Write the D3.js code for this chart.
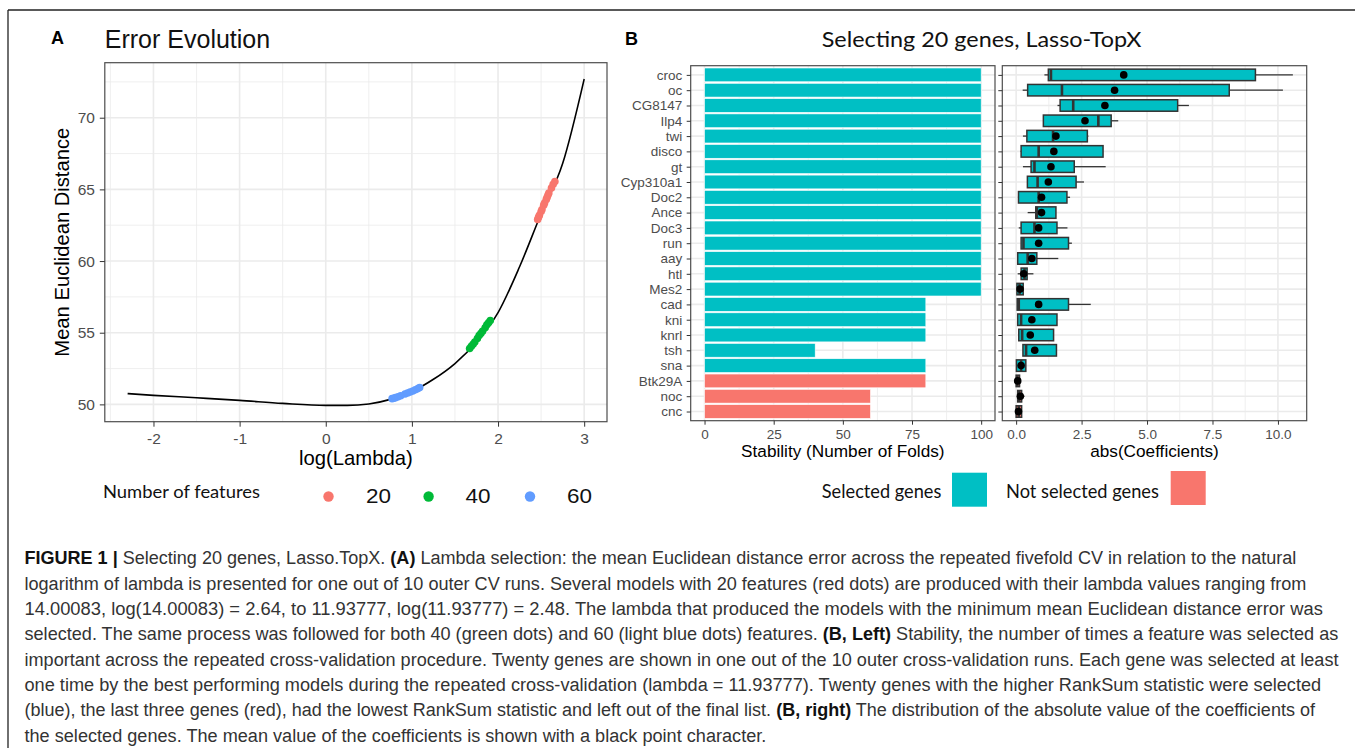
<!DOCTYPE html>
<html><head><meta charset="utf-8">
<script src="https://cdn.jsdelivr.net/npm/d3@7"></script>
<style>body{margin:0;background:#fff} svg{display:block} text{white-space:pre}</style>
</head><body>
<svg id="fig" width="1355" height="748"></svg>
<script>
// ---------------- DATA ----------------
// Panel A: error curve
const lambdaLog = [-2.3,-2.0,-1.5,-1.0,-0.5,0.0,0.25,0.5,0.75,1.0,1.25,1.5,1.75,2.0,2.25,2.5,2.75,3.0];
const meanError = [50.75,50.63,50.46,50.28,50.07,49.93,49.93,50.03,50.35,50.9,51.75,52.85,54.35,56.4,59.6,63.3,66.8,72.7];
// Panel A: models per number of features
const feat20Lambda = [2.46,2.47,2.48,2.50,2.51,2.53,2.54,2.56,2.57,2.58,2.59,2.62,2.64,2.66];
const feat20Error  = [62.9,63.05,63.2,63.45,63.6,63.9,64.05,64.3,64.45,64.6,64.75,65.1,65.35,65.55];
const feat40Lambda = [1.67,1.69,1.71,1.73,1.76,1.78,1.80,1.82,1.85,1.87,1.89,1.91];
const feat40Error  = [53.9,54.05,54.2,54.35,54.6,54.8,54.95,55.1,55.35,55.55,55.7,55.85];
const feat60Lambda = [0.77,0.79,0.81,0.84,0.87,0.92,0.95,0.98,1.01,1.04,1.07,1.09];
const feat60Error  = [50.4,50.43,50.47,50.53,50.6,50.72,50.79,50.86,50.93,51.02,51.1,51.18];
const featureGroups = ["20","40","60"];
const featureColors = ["#F8766D","#00BA38","#619CFF"];
const xTicksA = [-2,-1,0,1,2,3];
const yTicksA = [50,55,60,65,70];

// Panel B
const genes = ["croc","oc","CG8147","Ilp4","twi","disco","gt","Cyp310a1","Doc2","Ance","Doc3","run","aay","htl","Mes2","cad","kni","knrl","tsh","sna","Btk29A","noc","cnc"];
const stability = [100,100,100,100,100,100,100,100,100,100,100,100,100,100,100,80,80,80,40,80,80,60,60];
const geneStatus = ["S","S","S","S","S","S","S","S","S","S","S","S","S","S","S","S","S","S","S","S","N","N","N"];
const statusLabels = ["Selected genes","Not selected genes"];
const statusColors = ["#00BFC4","#F8766D"];
const coefMin    = [1.08,0.25,1.58,1.04,0.26,0.17,0.26,0.43,0.09,0.44,0.10,0.19,0.06,0.06,0.03,0.04,0.06,0.10,0.26,0.01,0.00,0.06,0.00];
const coefQ1     = [1.23,0.44,1.68,1.04,0.41,0.19,0.57,0.43,0.09,0.75,0.19,0.19,0.06,0.19,0.03,0.04,0.06,0.10,0.26,0.01,0.00,0.06,0.00];
const coefMedian = [1.33,1.75,2.18,3.14,1.41,0.86,0.70,0.82,0.86,0.79,0.70,0.28,0.44,0.32,0.13,0.10,0.19,0.23,0.38,0.19,0.05,0.12,0.10];
const coefQ3     = [9.14,8.14,6.17,3.63,2.72,3.32,2.22,2.29,1.94,1.52,1.56,2.00,0.79,0.42,0.27,2.00,1.56,1.43,1.54,0.37,0.13,0.21,0.21];
const coefMax    = [10.57,10.19,6.60,3.90,2.76,3.32,3.42,2.59,2.06,1.52,1.96,2.13,1.61,0.66,0.27,2.85,1.56,1.43,1.54,0.37,0.13,0.32,0.21];
const coefMean   = [4.11,3.76,3.39,2.63,1.52,1.44,1.33,1.23,0.97,0.97,0.86,0.86,0.60,0.29,0.15,0.86,0.60,0.54,0.71,0.19,0.06,0.16,0.09];
const stabTicks = [0,25,50,75,100];
const coefTicks = [0,2.5,5,7.5,10];

// Caption
const captionLines = [
  [["FIGURE 1 |",1],[" Selecting 20 genes, Lasso.TopX. ",0],["(A)",1],[" Lambda selection: the mean Euclidean distance error across the repeated fivefold CV in relation to the natural",0]],
  [["logarithm of lambda is presented for one out of 10 outer CV runs. Several models with 20 features (red dots) are produced with their lambda values ranging from",0]],
  [["14.00083, log(14.00083) = 2.64, to 11.93777, log(11.93777) = 2.48. The lambda that produced the models with the minimum mean Euclidean distance error was",0]],
  [["selected. The same process was followed for both 40 (green dots) and 60 (light blue dots) features. ",0],["(B, Left)",1],[" Stability, the number of times a feature was selected as",0]],
  [["important across the repeated cross-validation procedure. Twenty genes are shown in one out of the 10 outer cross-validation runs. Each gene was selected at least",0]],
  [["one time by the best performing models during the repeated cross-validation (lambda = 11.93777). Twenty genes with the higher RankSum statistic were selected",0]],
  [["(blue), the last three genes (red), had the lowest RankSum statistic and left out of the final list. ",0],["(B, right)",1],[" The distribution of the absolute value of the coefficients of",0]],
  [["the selected genes. The mean value of the coefficients is shown with a black point character.",0]]
];
const captionWidths = [1272,1283,1298,1314,1314,1297,1291,742];

// ---------------- DRAWING ----------------
const svg = d3.select("#fig");
const FONT = "'Liberation Sans', Arial, Helvetica, sans-serif";
const HFONT = "Lato, 'Open Sans', sans-serif";
const GRID = "#ebebeb", BORDER = "#4d4d4d", TICKTXT = "#4d4d4d";

function expand(ext, f = 0.05) { const r = ext[1] - ext[0]; return [ext[0] - r * f, ext[1] + r * f]; }
function minorBreaks(ticks, domain) {
  const step = ticks[1] - ticks[0], out = [];
  for (let i = -1; i < ticks.length; i++) { const v = ticks[0] + step * (i + 0.5); if (v >= domain[0] && v <= domain[1]) out.push(v); }
  return out;
}
function fitWidth(sel, x0, y0, width, anchor) {
  const w = sel.node().getComputedTextLength();
  const k = width / w;
  sel.attr("x", 0).attr("y", 0).attr("text-anchor", anchor || "start")
     .attr("transform", `translate(${x0},${y0}) scale(${k},1)`);
}
function styleAxis(g, size) {
  g.select(".domain").remove();
  g.selectAll(".tick line").attr("stroke", "#333").attr("stroke-width", 1);
  g.selectAll(".tick text").attr("fill", TICKTXT).attr("font-size", size).attr("font-family", FONT);
}
const hyphen = d => (d < 0 ? "-" + Math.abs(d) : String(d));

// Figure frame
svg.append("line").attr("x1", 8).attr("x2", 1355).attr("y1", 10).attr("y2", 10).attr("stroke", "#222").attr("stroke-width", 1.3);
svg.append("line").attr("x1", 8).attr("x2", 8).attr("y1", 10).attr("y2", 748).attr("stroke", "#222").attr("stroke-width", 1.3);

// ===== Panel A =====
const A = { l: 104.8, r: 607, t: 62.7, b: 421.7 };
const xA = d3.scaleLinear().domain(expand(d3.extent(lambdaLog))).range([A.l, A.r]);
const yA = d3.scaleLinear().domain(expand(d3.extent(meanError))).range([A.b, A.t]);
const gA = svg.append("g");
gA.append("rect").attr("x", A.l).attr("y", A.t).attr("width", A.r - A.l).attr("height", A.b - A.t).attr("fill", "#fff");
minorBreaks(xTicksA, xA.domain()).forEach(v => gA.append("line").attr("x1", xA(v)).attr("x2", xA(v)).attr("y1", A.t).attr("y2", A.b).attr("stroke", GRID).attr("stroke-width", 0.8));
minorBreaks(yTicksA, yA.domain()).forEach(v => gA.append("line").attr("y1", yA(v)).attr("y2", yA(v)).attr("x1", A.l).attr("x2", A.r).attr("stroke", GRID).attr("stroke-width", 0.8));
xTicksA.forEach(v => gA.append("line").attr("x1", xA(v)).attr("x2", xA(v)).attr("y1", A.t).attr("y2", A.b).attr("stroke", GRID).attr("stroke-width", 1.6));
yTicksA.forEach(v => gA.append("line").attr("y1", yA(v)).attr("y2", yA(v)).attr("x1", A.l).attr("x2", A.r).attr("stroke", GRID).attr("stroke-width", 1.6));

const curve = lambdaLog.map((x, i) => [x, meanError[i]]);
gA.append("path").datum(curve)
  .attr("d", d3.line().x(d => xA(d[0])).y(d => yA(d[1])).curve(d3.curveMonotoneX))
  .attr("fill", "none").attr("stroke", "#000").attr("stroke-width", 1.6);

const featSets = [[feat20Lambda, feat20Error], [feat40Lambda, feat40Error], [feat60Lambda, feat60Error]];
featSets.forEach((s, gi) => {
  gA.selectAll(null).data(s[0].map((x, i) => [x, s[1][i]])).enter().append("circle")
    .attr("cx", d => xA(d[0])).attr("cy", d => yA(d[1])).attr("r", 3.8).attr("fill", featureColors[gi]);
});
gA.append("rect").attr("x", A.l).attr("y", A.t).attr("width", A.r - A.l).attr("height", A.b - A.t).attr("fill", "none").attr("stroke", BORDER).attr("stroke-width", 1.2);

const axAx = gA.append("g").attr("transform", `translate(0,${A.b})`)
  .call(d3.axisBottom(xA).tickValues(xTicksA).tickSize(5).tickPadding(6).tickFormat(hyphen));
styleAxis(axAx, 15.5);
const axAy = gA.append("g").attr("transform", `translate(${A.l},0)`)
  .call(d3.axisLeft(yA).tickValues(yTicksA).tickSize(5).tickPadding(4.8).tickFormat(hyphen));
styleAxis(axAy, 15.5);

svg.append("text").text("A").attr("x", 51).attr("y", 44).attr("font-family", FONT).attr("font-weight", "bold").attr("font-size", 18);
svg.append("text").text("Error Evolution").attr("x", 104.8).attr("y", 48).attr("font-family", FONT).attr("font-size", 25).attr("fill", "#111");
svg.append("text").text("log(Lambda)").attr("x", (A.l + A.r) / 2).attr("y", 465).attr("text-anchor", "middle").attr("font-family", FONT).attr("font-size", 20.3);
svg.append("text").text("Mean Euclidean Distance").attr("transform", `translate(68.5,${(A.t + A.b) / 2}) rotate(-90)`).attr("text-anchor", "middle").attr("font-family", FONT).attr("font-size", 20.2);

// Legend A
const lgA = svg.append("text").text("Number of features").attr("font-family", HFONT).attr("font-size", 17.5).attr("fill", "#111");
fitWidth(lgA, 103, 498, 157);
const legDotX = [328.5, 428.6, 530];
const legTxtX = [366, 465.6, 567];
featureGroups.forEach((g, i) => {
  svg.append("circle").attr("cx", legDotX[i]).attr("cy", 496.5).attr("r", 5.2).attr("fill", featureColors[i]);
  const t = svg.append("text").text(g).attr("font-family", FONT).attr("font-size", 21).attr("fill", "#111");
  fitWidth(t, legTxtX[i], 503, 25);
});

// ===== Panel B: bars =====
const B = { l: 690.7, r: 995, t: 65.7, b: 420.7 };
const yB = d3.scalePoint().domain(genes).range([B.t, B.b]).padding(0.6);
const stepB = yB.step();
const xB = d3.scaleLinear().domain(expand([0, d3.max(stability)])).range([B.l, B.r]);
const gB = svg.append("g");
gB.append("rect").attr("x", B.l).attr("y", B.t).attr("width", B.r - B.l).attr("height", B.b - B.t).attr("fill", "#fff");
minorBreaks(stabTicks, xB.domain()).forEach(v => gB.append("line").attr("x1", xB(v)).attr("x2", xB(v)).attr("y1", B.t).attr("y2", B.b).attr("stroke", GRID).attr("stroke-width", 0.8));
stabTicks.forEach(v => gB.append("line").attr("x1", xB(v)).attr("x2", xB(v)).attr("y1", B.t).attr("y2", B.b).attr("stroke", GRID).attr("stroke-width", 1.6));
genes.forEach(g => gB.append("line").attr("y1", yB(g)).attr("y2", yB(g)).attr("x1", B.l).attr("x2", B.r).attr("stroke", GRID).attr("stroke-width", 1.6));
gB.selectAll("rect.bar").data(genes).enter().append("rect").attr("class", "bar")
  .attr("x", xB(0)).attr("y", g => yB(g) - stepB * 0.45)
  .attr("width", (g, i) => xB(stability[i]) - xB(0)).attr("height", stepB * 0.9)
  .attr("fill", (g, i) => statusColors[geneStatus[i] === "S" ? 0 : 1])
  .attr("stroke", "#fff").attr("stroke-width", 0.6);
gB.append("rect").attr("x", B.l).attr("y", B.t).attr("width", B.r - B.l).attr("height", B.b - B.t).attr("fill", "none").attr("stroke", BORDER).attr("stroke-width", 1.2);
const axBx = gB.append("g").attr("transform", `translate(0,${B.b})`)
  .call(d3.axisBottom(xB).tickValues(stabTicks).tickSize(4).tickPadding(4.3));
styleAxis(axBx, 13.5);
const axBy = gB.append("g").attr("transform", `translate(${B.l},0)`)
  .call(d3.axisLeft(yB).tickSize(4).tickPadding(4.4));
styleAxis(axBy, 13.5);
svg.append("text").text("Stability (Number of Folds)").attr("x", (B.l + B.r) / 2).attr("y", 457).attr("text-anchor", "middle").attr("font-family", FONT).attr("font-size", 17.2);

// ===== Panel B: boxplots =====
const C = { l: 1002.3, r: 1306.7, t: 65.7, b: 420.7 };
const xC = d3.scaleLinear().domain(expand([d3.min(coefMin), d3.max(coefMax)])).range([C.l, C.r]);
const gC = svg.append("g");
gC.append("rect").attr("x", C.l).attr("y", C.t).attr("width", C.r - C.l).attr("height", C.b - C.t).attr("fill", "#fff");
minorBreaks(coefTicks, xC.domain()).forEach(v => gC.append("line").attr("x1", xC(v)).attr("x2", xC(v)).attr("y1", C.t).attr("y2", C.b).attr("stroke", GRID).attr("stroke-width", 0.8));
coefTicks.forEach(v => gC.append("line").attr("x1", xC(v)).attr("x2", xC(v)).attr("y1", C.t).attr("y2", C.b).attr("stroke", GRID).attr("stroke-width", 1.6));
genes.forEach(g => gC.append("line").attr("y1", yB(g)).attr("y2", yB(g)).attr("x1", C.l).attr("x2", C.r).attr("stroke", GRID).attr("stroke-width", 1.6));
const boxH = stepB * 0.75;
genes.forEach((g, i) => {
  const y = yB(g);
  gC.append("line").attr("x1", xC(coefMin[i])).attr("x2", xC(coefQ1[i])).attr("y1", y).attr("y2", y).attr("stroke", "#333").attr("stroke-width", 1.3);
  gC.append("line").attr("x1", xC(coefQ3[i])).attr("x2", xC(coefMax[i])).attr("y1", y).attr("y2", y).attr("stroke", "#333").attr("stroke-width", 1.3);
  gC.append("rect").attr("x", xC(coefQ1[i])).attr("y", y - boxH / 2).attr("width", Math.max(0.5, xC(coefQ3[i]) - xC(coefQ1[i]))).attr("height", boxH)
    .attr("fill", statusColors[geneStatus[i] === "S" ? 0 : 1]).attr("stroke", "#333").attr("stroke-width", 1.5);
  gC.append("line").attr("x1", xC(coefMedian[i])).attr("x2", xC(coefMedian[i])).attr("y1", y - boxH / 2).attr("y2", y + boxH / 2).attr("stroke", "#333").attr("stroke-width", 2.6);
  gC.append("circle").attr("cx", xC(coefMean[i])).attr("cy", y).attr("r", 3.8).attr("fill", "#000");
});
gC.append("rect").attr("x", C.l).attr("y", C.t).attr("width", C.r - C.l).attr("height", C.b - C.t).attr("fill", "none").attr("stroke", BORDER).attr("stroke-width", 1.2);
const axCx = gC.append("g").attr("transform", `translate(0,${C.b})`)
  .call(d3.axisBottom(xC).tickValues(coefTicks).tickSize(4).tickPadding(4.3).tickFormat(d3.format(".1f")));
styleAxis(axCx, 13.5);
const axCy = gC.append("g").attr("transform", `translate(${C.l},0)`)
  .call(d3.axisLeft(yB).tickSize(4).tickFormat(""));
styleAxis(axCy, 13.5);
svg.append("text").text("abs(Coefficients)").attr("x", (C.l + C.r) / 2).attr("y", 457).attr("text-anchor", "middle").attr("font-family", FONT).attr("font-size", 17.2);

svg.append("text").text("B").attr("x", 625).attr("y", 45).attr("font-family", FONT).attr("font-weight", "bold").attr("font-size", 18);
const tB = svg.append("text").text("Selecting 20 genes, Lasso-TopX").attr("font-family", HFONT).attr("font-size", 22).attr("fill", "#111");
fitWidth(tB, 821.7, 47.3, 320);

// Legend B
const lgTxtX = [821.8, 1006];
const lgTxtW = [119.6, 153];
const lgKeyX = [952, 1170.7];
const lgKeyY = [472.7, 471];
statusLabels.forEach((s, i) => {
  const t = svg.append("text").text(s).attr("font-family", HFONT).attr("font-size", 19.5).attr("fill", "#111");
  fitWidth(t, lgTxtX[i], 498.3, lgTxtW[i]);
  svg.append("rect").attr("x", lgKeyX[i]).attr("y", lgKeyY[i]).attr("width", 35).attr("height", 34).attr("fill", statusColors[i]);
});

// Caption
captionLines.forEach((segs, li) => {
  const t = svg.append("text").attr("font-family", FONT).attr("font-size", 17.6).attr("fill", "#222");
  segs.forEach(s => t.append("tspan").text(s[0]).attr("font-weight", s[1] ? "bold" : "normal").attr("fill", s[1] ? "#111" : "#333"));
  fitWidth(t, 24.5, 564.3 + li * 25.33, captionWidths[li]);
});
</script>
</body></html>
